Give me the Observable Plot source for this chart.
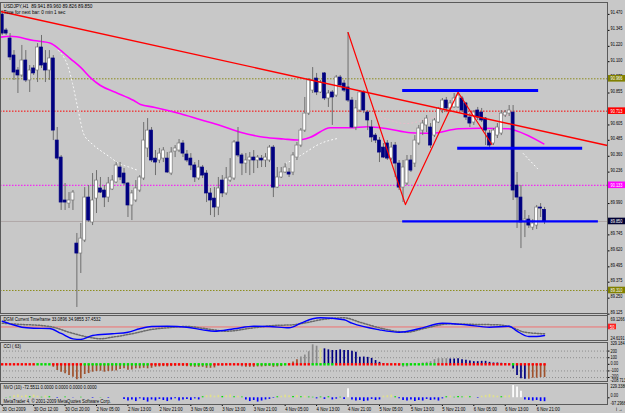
<!DOCTYPE html>
<html><head><meta charset="utf-8">
<script src="https://cdn.jsdelivr.net/npm/d3@7"></script>
<script src="https://cdn.jsdelivr.net/npm/@observablehq/plot@0.6"></script>
<style>
html,body{margin:0;padding:0;background:#c8c8c8;}
#chart{position:relative;width:625px;height:413px;background:#c8c8c8;overflow:hidden;}
#chart svg{position:absolute;left:0;}
</style></head>
<body><div id="chart"></div>
<script>
// ---------------- DATA ----------------
const opens = [
 91.469,91.344,91.281,91.148,91.031,90.992,91.109,90.953,91.047,91.031,
 91.211,91.086,91.031,91.125,90.483,90.350,90.014,89.990,90.014,89.677,
 89.599,89.701,90.037,89.842,90.029,90.108,90.092,90.037,90.100,90.155,
 90.272,90.225,90.147,89.975,90.014,90.092,90.186,90.421,90.561,90.342,
 90.327,90.342,90.342,90.225,90.397,90.405,90.460,90.374,90.342,90.288,
 90.186,90.272,90.225,90.069,90.029,89.959,90.170,90.069,90.170,90.186,
 90.468,90.366,90.303,90.327,90.350,90.327,90.342,90.327,90.327,90.428,
 90.115,90.194,90.233,90.233,90.233,90.350,90.444,90.561,90.694,90.874,
 90.968,90.859,91.008,90.812,90.859,90.835,90.976,90.929,90.898,90.796,
 90.585,90.718,90.859,90.702,90.585,90.522,90.483,90.428,90.460,90.342,
 90.444,90.303,90.115,90.147,90.327,90.303,90.460,90.561,90.601,90.585,
 90.522,90.624,90.718,90.796,90.734,90.742,90.742,90.812,90.773,90.663,
 90.624,90.718,90.702,90.655,90.538,90.460,90.522,90.538,90.679,90.694,
 90.702,90.131,90.037,89.842,89.865,89.802,89.818,89.959,89.941];
const highs = [
 91.500,91.360,91.320,91.187,91.054,91.227,91.187,91.070,91.070,91.242,
 91.305,91.187,91.187,91.148,90.585,90.366,90.147,90.076,90.092,89.756,
 89.834,90.115,90.131,90.225,90.248,90.194,90.131,90.194,90.209,90.311,
 90.311,90.264,90.155,90.092,90.170,90.209,90.624,90.655,90.585,90.405,
 90.421,90.428,90.389,90.428,90.444,90.491,90.483,90.405,90.381,90.311,
 90.327,90.288,90.248,90.108,90.115,90.194,90.209,90.272,90.342,90.483,
 90.585,90.381,90.381,90.389,90.405,90.366,90.366,90.381,90.444,90.444,
 90.272,90.272,90.303,90.264,90.389,90.468,90.577,90.820,90.968,91.054,
 91.008,90.953,91.015,90.874,90.874,90.992,90.992,90.953,91.328,90.820,
 90.796,90.874,90.874,90.718,90.640,90.538,90.507,90.460,90.483,90.468,
 90.468,90.327,90.327,90.366,90.366,90.522,90.601,90.640,90.679,90.616,
 90.655,90.742,90.812,90.820,90.796,90.851,90.859,90.828,90.781,90.694,
 90.718,90.742,90.734,90.663,90.561,90.577,90.616,90.718,90.718,90.757,
 90.757,90.233,90.131,89.936,89.896,89.865,89.975,89.990,89.960];
const lows = [
 91.305,91.305,91.109,90.953,90.851,90.976,90.937,90.859,90.992,90.937,
 91.047,90.937,90.953,90.483,90.327,89.936,89.936,89.951,89.936,89.177,
 89.443,89.685,89.842,89.818,89.912,90.069,89.959,89.998,90.092,90.147,
 90.170,90.131,89.881,89.857,89.998,90.076,90.170,90.350,90.311,90.209,
 90.303,90.311,90.225,90.209,90.350,90.389,90.350,90.311,90.248,90.155,
 90.170,90.186,89.998,89.896,89.881,89.896,90.037,90.053,90.155,90.170,
 90.350,90.209,90.225,90.209,90.225,90.264,90.272,90.272,90.311,90.037,
 90.108,90.186,90.225,90.194,90.209,90.327,90.428,90.546,90.679,90.851,
 90.835,90.851,90.796,90.742,90.601,90.820,90.898,90.859,90.781,90.577,
 90.561,90.702,90.694,90.561,90.468,90.460,90.311,90.342,90.327,90.327,
 90.194,90.092,89.998,90.131,90.233,90.272,90.444,90.522,90.546,90.421,
 90.507,90.616,90.694,90.702,90.718,90.734,90.734,90.702,90.640,90.585,
 90.601,90.640,90.624,90.444,90.421,90.444,90.499,90.522,90.663,90.671,
 90.014,89.795,89.638,89.724,89.795,89.779,89.787,89.881,89.826];
const closes = [
 91.320,91.320,91.133,91.015,90.992,91.109,90.953,91.031,91.008,91.211,
 91.070,91.031,91.125,90.561,90.342,89.998,89.998,90.014,90.076,89.599,
 89.716,90.037,89.857,90.014,90.170,90.076,90.037,90.147,90.170,90.288,
 90.194,90.147,89.975,90.069,90.108,90.194,90.483,90.561,90.327,90.311,
 90.381,90.405,90.233,90.389,90.421,90.460,90.381,90.327,90.288,90.194,
 90.272,90.209,90.069,90.014,89.959,90.108,90.069,90.186,90.194,90.468,
 90.366,90.303,90.327,90.350,90.327,90.350,90.327,90.350,90.428,90.115,
 90.194,90.233,90.272,90.217,90.366,90.444,90.561,90.694,90.953,90.953,
 90.859,90.937,90.812,90.851,90.820,90.976,90.914,90.874,90.796,90.585,
 90.734,90.859,90.718,90.640,90.507,90.483,90.389,90.350,90.342,90.428,
 90.303,90.115,90.272,90.327,90.248,90.483,90.577,90.616,90.655,90.444,
 90.640,90.734,90.796,90.734,90.773,90.812,90.835,90.718,90.663,90.616,
 90.702,90.663,90.640,90.561,90.444,90.561,90.585,90.694,90.702,90.718,
 90.092,90.037,89.842,89.865,89.818,89.834,89.959,89.951,89.850];

// moving average (magenta) read points: bar index, price
const maIdx = [-0.4,2.1,8.0,12.3,14.4,17.4,19.9,22.5,25,28.8,33.5,35.2,38.6,45.4,50.5,55.5,60.6,66.6,71.6,75.1,78.4,83.5,88.6,92.9,98,103.9,109.4,116.1,122.1,128.8,130.6,137.8];
const maVal = [91.292,91.299,91.266,91.245,91.201,91.122,91.057,90.974,90.914,90.861,90.796,90.765,90.744,90.692,90.645,90.601,90.548,90.509,90.495,90.487,90.509,90.583,90.583,90.591,90.575,90.544,90.540,90.575,90.579,90.575,90.561,90.457];

// faint dotted envelope pieces (white) and upper band (pink): segment id, bar index, price
const dotSeg = [0,0,0,0,0,0,0,0,0,0,0, 1,1,1,1, 2,2];
const dotIdx = [14.3,16.9,17.9,19.2,20.7,22.5,25.0,27.6,29.3,32.6,34.7, 72.1,75.9,81,85.3, 132.6,136.2];
const dotVal = [91.187,91.047,90.929,90.741,90.538,90.468,90.405,90.350,90.311,90.272,90.248, 90.303,90.366,90.460,90.499, 90.381,90.264];
const pinkIdx = [94.5,98.8,102.6,111,119.7,128.8];
const pinkVal = [90.694,90.640,90.616,90.671,90.694,90.679];

// red trend line (two ends) and red zigzag
const trendIdx = [-0.43, 154.0];
const trendVal = [91.493, 90.444];
const zigIdx = [88, 102.6, 116, 124.6];
const zigVal = [91.328, 89.982, 90.861, 90.452];

// blue horizontal lines: start bar, end bar, price
const hStart = [101.9, 115.9, 101.9];
const hEnd   = [136.5, 147.7, 151.7];
const hPrice = [90.874, 90.423, 89.850];

// horizontal level lines and price tag values
const levelVals = [90.966, 90.713, 90.133, 89.310];
const bidPrice = 89.850;
const priceTicks = [91.470,91.345,91.220,91.100,90.975,90.855,90.605,90.485,90.360,90.236,89.990,89.745,89.620,89.495,89.375,89.250,89.125];

// time axis
const timeIdx = [0,8,16,24,32,40,48,56,64,72,80,88,96,104,112,120,128,136];
const timeLbl = ["30 Oct 2009","30 Oct 12:00","30 Oct 20:00","2 Nov 05:00","2 Nov 13:00","2 Nov 21:00","3 Nov 05:00","3 Nov 13:00","3 Nov 21:00","4 Nov 05:00","4 Nov 13:00","4 Nov 21:00","5 Nov 05:00","5 Nov 13:00","5 Nov 21:00","6 Nov 05:00","6 Nov 13:00","6 Nov 21:00"];

// DGM panel: main (blue) and signal (dotted) read points
const dgmIdx = [0,2,5,8,12,15,18,20,23,28,32,35,38,42,47,51,54,59,64,68,73,76,79,81,87,89,96,101,106,112,118,124,129,131,134,136,138];
const dgmVal = [61.6,56.4,49.5,47.5,46.9,36.8,26.0,24.6,32.7,36.2,39.4,46.3,50.9,51.5,49.5,44.2,41.4,46.3,51.5,50.9,48.3,57.6,66.5,68.5,64.5,57.6,44.2,39.4,46.3,57.6,54.4,49.5,51.5,41.4,30.7,30.7,32.7];
const sigIdx = [0,5,10,13,17,22,25,28,33,38,42,47,52,57,64,69,74,78,81,87,91,97,103,107,114,121,126,129,133,138];
const sigVal = [57.6,55.0,52.9,49.5,39.4,29.3,26.0,29.3,36.2,44.8,48.3,50.9,46.3,41.4,48.3,52.9,54.4,59.6,64.5,68.5,59.6,46.3,39.4,46.3,56.4,55.0,54.4,50.9,39.4,36.2];

// CCI(63) histogram per bar, bar category (b brown, g gray, y yellow, n navy), zero-line state (r/g)
const cciVal = [
 -5,-8,-10,-12,-15,-10,-12,-10,-12,-8,
 -5,-8,-10,-44,-94,-120,-144,-170,-195,-235,
 -220,-154,-140,-119,-110,-105,-119,-110,-105,-100,
 -80,-68,-90,-85,-68,-68,-60,-68,-60,-44,
 -40,-35,-40,-35,-30,-25,-30,-35,-40,-45,
 -45,-45,-60,-60,-55,-25,-30,-20,-15,-10,
 -20,-40,-45,-45,-45,-40,-40,-35,-30,-45,
 -40,-35,-20,-10,35,70,110,140,190,295,
 274,234,234,219,209,209,219,209,209,198,
 183,107,110,105,90,57,30,10,0,-5,
 -10,-30,-45,-40,-20,-5,10,20,30,40,
 70,85,85,85,80,80,85,70,60,50,
 40,40,45,45,30,20,20,15,10,5,
 -70,-170,-220,-225,-225,-210,-210,-200,-200];
const cciCat =
 "ggggggggggggg" + "bbbbbbbbbbbbbbbbbbbbbbbbbbbbbbbbbbbbbbbbbb" + "gggggggbbbbbbbbbbbbbbgg" +
 "gggyn" + "nnnnnnnnnnnnnnnnn" + "ggggggyggggggg" + "nnnnnnnnnnnnnnnnnnnn" + "bbbbbbbbb";
const zeroState =
 "rrrrrrrrr" + "gggg" + "rrrrrrrr" + "ggggggggggggggggg" + "rrrrrrrrrr" + "gggggg" + "rrrrrrrrrrr" +
 "gggggggg" + "rrrrrr" + "gggggg" + "rrrrrrrrrrrrrrrrr" + "ggggggggg" + "rrrrrrrrrrrrrrrrrrr" + "g" + "rrrrrrrr";

// NVO(10) histogram per bar
const nvoVal = [
 0,5,10,40,50,30,45,20,50,30,
 10,35,20,0,-10,0,15,0,-5,0,
 10,0,0,-10,0,5,0,-10,0,0,
 0,-30,-60,-40,-70,-20,-50,-80,-40,-60,
 -30,-50,-70,-40,-20,-60,-40,-30,-50,-20,
 -40,20,40,50,30,45,25,40,50,20,
 30,15,-40,-70,-50,-80,-60,-40,-30,-10,
 20,30,50,40,25,45,20,30,15,10,
 -20,15,-30,20,-40,-25,10,-30,170,-40,
 -60,-50,-70,-60,-30,-50,-40,30,40,50,
 20,-20,-50,-60,-40,-70,-50,-60,-30,-50,
 -40,-60,-20,20,30,10,25,15,30,20,
 0,-10,30,45,60,40,30,20,35,40,
 230,200,120,-40,-50,-60,-50,-70,-72.55];

// ---------------- LAYOUT / STYLE ----------------
const FONT = "'Liberation Sans','DejaVu Sans',Arial,sans-serif";
const W = 625, PLOTR = 607;
const xDom = [-0.433, 154.02];
const px2i = px => xDom[0] + px / PLOTR * (xDom[1] - xDom[0]);
const boxX1 = px2i(608), boxX2 = px2i(626);
const frameCol = "#5a5a5a";
const levelCols = ["#8c8c1e", "#ff0000", "#ff00ff", "#8c8c1e"];
const levelBox = ["#808000", "#ff0000", "#ff00ff", "#808000"];
const baseStyle = {background: "transparent", fontFamily: FONT, overflow: "visible", color: "#000"};

const N = opens.length;
const idx = d3.range(N);
const candles = idx.map(i => ({i, o: opens[i], h: highs[i], l: lows[i], c: closes[i]}));
const ma = maIdx.map((i, k) => ({i, p: maVal[k]}));
const dots = dotIdx.map((i, k) => ({i, p: dotVal[k], s: dotSeg[k]}));
const pink = pinkIdx.map((i, k) => ({i, p: pinkVal[k]}));
const trend = trendIdx.map((i, k) => ({i, p: trendVal[k]}));
const zig = zigIdx.map((i, k) => ({i, p: zigVal[k]}));
const hlines = hPrice.map((p, k) => ({a: hStart[k], b: hEnd[k], p}));
const levels = levelVals.map((p, k) => ({p, k}));
const tags = [...levels.map(d => ({p: d.p, fill: levelBox[d.k]})), {p: bidPrice, fill: "#000033"}];

const chart = document.getElementById("chart");
function place(svg, top) { svg.style.top = top + "px"; chart.appendChild(svg); }
const rlab = (vals, fmt, dy) => Plot.text(vals, {x: () => boxX1, y: d => d, text: fmt, textAnchor: "start", dx: 2, dy, fontSize: 5, fill: "#000"});
const rtick = vals => Plot.ruleY(vals, {x1: () => xDom[1], x2: () => px2i(609.5), y: d => d, stroke: "#000"});

// ---------- main price panel ----------
const main = Plot.plot({
  width: W, height: 314, marginLeft: 0, marginRight: W - PLOTR, marginTop: 2, marginBottom: 1,
  style: baseStyle,
  x: {domain: xDom, axis: null},
  y: {domain: [89.130, 91.563], axis: null},
  marks: [
    Plot.ruleY([bidPrice], {stroke: "#b0a8a8", strokeWidth: 1}),
    Plot.ruleY(levels, {y: "p", stroke: d => levelCols[d.k], strokeWidth: 1, strokeDasharray: "1.5,1.5"}),
    Plot.line(dots, {x: "i", y: "p", z: "s", stroke: "#ffffff", strokeWidth: 1, strokeDasharray: "1,3", curve: "monotone-x"}),
    Plot.line(pink, {x: "i", y: "p", stroke: "#f0b8c8", strokeWidth: 1, strokeDasharray: "1,3", curve: "monotone-x"}),
    Plot.line(ma, {x: "i", y: "p", stroke: "#ff00ff", strokeWidth: 1.6, curve: "monotone-x"}),
    Plot.ruleX(candles, {x: "i", y1: "l", y2: "h", stroke: "#6e6e6e", strokeWidth: 1}),
    Plot.rect(candles, {x1: d => d.i - 0.38, x2: d => d.i + 0.38, y1: "o", y2: "c",
      fill: d => d.c >= d.o ? "#ffffff" : "#000080",
      stroke: d => d.c >= d.o ? "#7a7a7a" : "#000080", strokeWidth: 0.7}),
    Plot.line(trend, {x: "i", y: "p", stroke: "#ff0000", strokeWidth: 1.4}),
    Plot.line(zig, {x: "i", y: "p", stroke: "#ff0000", strokeWidth: 1.2}),
    Plot.ruleY(hlines, {x1: "a", x2: "b", y: "p", stroke: "#0000ff", strokeWidth: (d, k) => k === 2 ? 2.2 : 3}),
    rtick(priceTicks),
    rlab(priceTicks, d => d.toFixed(3), -1.5),
    Plot.rect(tags, {x1: () => boxX1, x2: () => boxX2, y1: "p", y2: "p", insetTop: -3.3, insetBottom: -3.3, fill: "fill"}),
    Plot.text(tags, {x: () => boxX1, y: "p", text: d => d.p.toFixed(3), textAnchor: "start", dx: 2, fill: "white", fontSize: 5}),
    Plot.text(["USDJPY,H1  89.941 89.960 89.826 89.850"], {frameAnchor: "top-left", dx: 3, dy: 1, lineAnchor: "top", textAnchor: "start", fontSize: 6, fill: "#000"}),
    Plot.text(["Time for next bar: 0 min 1 sec"], {frameAnchor: "top-left", dx: 3, dy: 7.5, lineAnchor: "top", textAnchor: "start", fontSize: 6, fill: "#000"}),
    Plot.frame({stroke: frameCol})
  ]
});
place(main, 0);

// ---------- DGM panel ----------
const dgm = dgmIdx.map((i, k) => ({i, v: dgmVal[k]}));
const sig = sigIdx.map((i, k) => ({i, v: sigVal[k]}));
const p2 = Plot.plot({
  width: W, height: 27, marginLeft: 0, marginRight: W - PLOTR, marginTop: 1, marginBottom: 1,
  style: baseStyle,
  x: {domain: xDom, axis: null},
  y: {domain: [22.6, 73.18], axis: null},
  marks: [
    Plot.ruleY([50], {stroke: "#f07070", strokeWidth: 1}),
    Plot.line(sig, {x: "i", y: "v", stroke: "#6a6a6a", strokeDasharray: "1.5,1.5", curve: "monotone-x"}),
    Plot.line(dgm, {x: "i", y: "v", stroke: "#0000ff", strokeWidth: 1.4, curve: "monotone-x"}),
    rlab([69.1266], d => d.toFixed(4), 1.5),
    rlab([24.6191], d => d.toFixed(4), -1.5),
    Plot.rect([50], {x1: () => boxX1, x2: () => px2i(616), y1: d => d, y2: d => d, insetTop: -2.8, insetBottom: -2.8, fill: "#ff2020"}),
    Plot.text([50], {x: () => boxX1, y: d => d, text: d => String(d), textAnchor: "start", dx: 1.5, fill: "white", fontSize: 5}),
    Plot.text(["DGM Current Timeframe 33.0896 34.9855 37.4532"], {frameAnchor: "top-left", dx: 3, dy: 1.5, lineAnchor: "top", textAnchor: "start", fontSize: 5.5, fill: "#000"}),
    Plot.frame({stroke: frameCol})
  ]
});
place(p2, 314);

// ---------- CCI panel ----------
const cciCol = {b: "#a0522d", g: "#8a8a8a", y: "#d8d890", n: "#000080"};
const cci = idx.map(i => ({i, v: cciVal[i], c: cciCol[cciCat[i]], z: zeroState[i] === "g" ? "#00e000" : "#ff0000"}));
const p3 = Plot.plot({
  width: W, height: 41, marginLeft: 0, marginRight: W - PLOTR, marginTop: 1, marginBottom: 1,
  style: baseStyle,
  x: {domain: xDom, axis: null},
  y: {domain: [-260, 330], axis: null},
  marks: [
    Plot.ruleY([200, 100, -100, -200], {stroke: "#8e8e8e", strokeDasharray: "1,2"}),
    Plot.ruleX(cci, {x: "i", y1: 0, y2: "v", stroke: "c", strokeWidth: 1.7}),
    Plot.dot(cci, {x: "i", y: 0, symbol: "square", r: 1.35, fill: "z", stroke: null}),
    rtick([200, 100, 0, -100, -200]),
    rlab([329.184], () => "329.184", 1.2),
    rlab([200, 100], d => String(d), 0),
    rlab([-100], d => String(d), -1),
    rlab([0], () => "0.00", -0.5),
    rlab([-200], () => "-200", -1.2),
    rlab([-208.713], () => "-208.713", 2.2),
    Plot.text(["CCI ( 63)"], {frameAnchor: "top-left", dx: 3, dy: 2, lineAnchor: "top", textAnchor: "start", fontSize: 5.5, fill: "#000"}),
    Plot.frame({stroke: frameCol})
  ]
});
place(p3, 341);

// ---------- NVO panel + time axis ----------
const nvoColor = v => v < 0 ? "#0000ff" : v > 100 ? "#ffffff" : v >= 30 ? "#e0e08c" : "#00e000";
const nvo = idx.map(i => ({i, v: nvoVal[i], c: nvoColor(nvoVal[i])}));
const tmap = new Map(timeIdx.map((t, k) => [t, timeLbl[k]]));
const p4 = Plot.plot({
  width: W, height: 31, marginLeft: 0, marginRight: W - PLOTR, marginTop: 1, marginBottom: 9,
  style: baseStyle,
  x: {domain: xDom, axis: null},
  y: {domain: [-124.9, 266.6], axis: null},
  marks: [
    Plot.ruleX(nvo, {x: "i", y1: 0, y2: "v", stroke: "c", strokeWidth: 1.7}),
    rtick([0]),
    rlab([0], () => "0.00", -2),
    rlab([229.3386], () => "229.3386", 1),
    rlab([-97.2966], () => "-97.2966", 0.5),
    Plot.text(["NVO (10) -72.5511 0.0000 0.0000 0.0000 0.0000"], {frameAnchor: "top-left", dx: 3, dy: 2, lineAnchor: "top", textAnchor: "start", fontSize: 5.5, fill: "#000"}),
    Plot.text(["MetaTrader 4, \u00a9 2001-2009 MetaQuotes Software Corp."], {frameAnchor: "bottom-left", dx: 3, dy: -2, lineAnchor: "bottom", textAnchor: "start", fontSize: 5.5, fill: "#000"}),
    Plot.axisX(timeIdx, {anchor: "bottom", tickSize: 2, tickPadding: 1, fontSize: 5.5, textAnchor: "start", dx: 0,
      tickFormat: d => tmap.get(d)}),
    Plot.frame({stroke: frameCol})
  ]
});
place(p4, 382);

// narrow pixel-like font of the terminal: condense every text horizontally, keep right labels inside
chart.querySelectorAll("svg text").forEach(t => {
  const w = t.getComputedTextLength();
  if (w > 0) {
    let target = w * 0.78;
    const bx = t.getBBox().x;
    if (bx > 600 && bx + target > 623.5) target = 623.5 - bx;
    t.setAttribute("textLength", target.toFixed(2));
    t.setAttribute("lengthAdjust", "spacingAndGlyphs");
  }
});
</script>
</body></html>
